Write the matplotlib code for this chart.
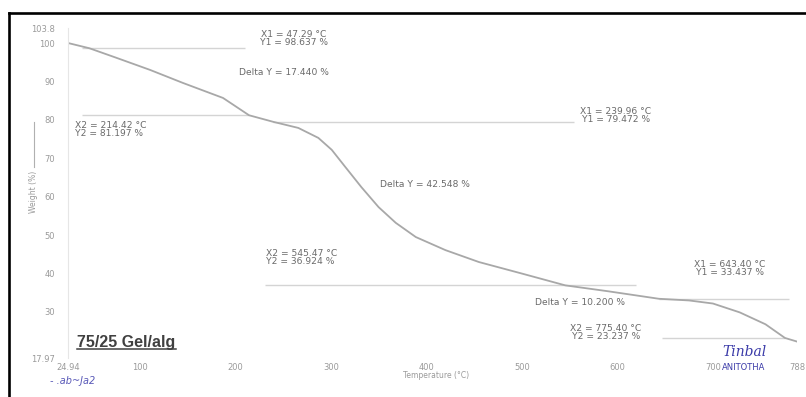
import matplotlib
matplotlib.use("Agg")
import matplotlib.pyplot as plt
from matplotlib.lines import Line2D

# TGA curve: temperature (°C) vs weight (%)
temperature = [24.94, 47.29, 75, 110.8, 145.3, 187.2, 214.42, 239.96, 266, 287,
               301, 315, 332, 350, 368, 389, 420, 455, 500, 545.47, 590, 643.40, 675,
               700, 728, 755, 775.40, 788]
weight = [100.0, 98.637, 96.2, 93.0, 89.6, 85.7, 81.197, 79.472, 77.9, 75.3,
          72.2, 67.8, 62.5, 57.3, 53.2, 49.5, 46.1, 43.0, 40.0, 36.924, 35.4, 33.437,
          33.0, 32.2, 29.9, 26.8, 23.237, 22.3]

# Step-analysis results
step_x1 = [47.29, 239.96, 643.40]
step_y1 = [98.637, 79.472, 33.437]
step_x2 = [214.42, 545.47, 775.40]
step_y2 = [81.197, 36.924, 23.237]
step_delta = [17.440, 42.548, 10.200]

# Axis ticks
x_ticks = [24.94, 100, 200, 300, 400, 500, 600, 700, 788]
x_tick_labels = ["24.94", "100", "200", "300", "400", "500", "600", "700", "788"]
y_ticks = [17.97, 30, 40, 50, 60, 70, 80, 90, 100, 103.8]
y_tick_labels = ["17.97", "30", "40", "50", "60", "70", "80", "90", "100", "103.8"]

sample_name = "75/25 Gel/alg"

W, H = 806, 397
fig = plt.figure(figsize=(W / 100, H / 100), dpi=100)
fig.patch.set_facecolor("white")

left, right, top, bottom = 68, 797, 28.4, 358.2
ax = fig.add_axes([left / W, 1 - bottom / H, (right - left) / W, (bottom - top) / H])
ax.set_xlim(24.94, 788)
ax.set_ylim(17.97, 103.8)

font = "DejaVu Sans"
txt_col = "#6a6a6a"
ref_col = "#d4d4d4"
fs_ann = 6.6

# Horizontal reference lines for each step
ref_segments = [
    (step_y1[0], 40, 210),
    (step_y2[0], 40, step_x2[0]),
    (step_y1[1], step_x1[1], 555),
    (step_y2[1], 231, 620),
    (step_y1[2], step_x1[2], 780),
    (step_y2[2], 647, step_x2[2]),
]
for yv, xa, xb in ref_segments:
    ax.plot([xa, xb], [yv, yv], color=ref_col, lw=1.0, solid_capstyle="butt", zorder=1)

ax.plot(temperature, weight, color="#a8a8a8", lw=1.3, zorder=2)

# Annotations
def pair(x, y_top, y_bot, k, a, b, ha="center"):
    ax.text(x, y_top, f"X{k} = {a:.2f} °C", ha=ha, va="center", fontsize=fs_ann,
            family=font, color=txt_col)
    ax.text(x, y_bot, f"Y{k} = {b:.3f} %", ha=ha, va="center", fontsize=fs_ann,
            family=font, color=txt_col)

pair(261.5, 102.2, 100.2, 1, step_x1[0], step_y1[0])
pair(32.3, 78.5, 76.4, 2, step_x2[0], step_y2[0], ha="left")
pair(598.5, 82.1, 80.1, 1, step_x1[1], step_y1[1])
pair(232.2, 45.2, 43.2, 2, step_x2[1], step_y2[1], ha="left")
pair(717.8, 42.3, 40.3, 1, step_x1[2], step_y1[2])
pair(588.0, 25.6, 23.6, 2, step_x2[2], step_y2[2])

for (x, y), d in zip([(251.0, 92.45), (398.6, 63.3), (560.8, 32.35)], step_delta):
    ax.text(x, y, f"Delta Y = {d:.3f} %", ha="center", va="center", fontsize=fs_ann,
            family=font, color=txt_col)

# Axes styling
ax.set_xticks(x_ticks)
ax.set_xticklabels(x_tick_labels)
ax.set_yticks(y_ticks)
ax.set_yticklabels(y_tick_labels)
ax.tick_params(length=0, labelsize=6.0, labelcolor="#9a9a9a")
ax.tick_params(axis="y", pad=9.5)
ax.tick_params(axis="x", pad=3.5)
for lab in ax.get_xticklabels() + ax.get_yticklabels():
    lab.set_family(font)
for s in ["top", "right", "bottom"]:
    ax.spines[s].set_visible(False)
ax.spines["left"].set_color("#e6e6e6")
ax.spines["left"].set_linewidth(0.8)
ax.set_facecolor("white")

fig.text(436 / W, 1 - 376 / H, "Temperature (°C)", ha="center", va="center",
         fontsize=5.5, family=font, color="#9a9a9a")
fig.text(34 / W, 1 - 192 / H, "Weight (%)", ha="center", va="center", rotation=90,
         fontsize=5.5, family=font, color="#9a9a9a")
fig.add_artist(Line2D([34 / W, 34 / W], [1 - 122 / H, 1 - 167 / H], color="#b0b0b0", lw=0.8))

# Sample title, underlined
fig.text(77 / W, 1 - 342 / H, sample_name, ha="left", va="center", fontsize=11.5,
         family="Liberation Sans", weight="bold", color="#404040")
fig.add_artist(Line2D([77 / W, 176 / W], [1 - 349 / H, 1 - 349 / H], color="#404040", lw=1.1))

# Handwritten notes in blue ink
fig.text(50 / W, 1 - 381 / H, "- .ab~Ja2", ha="left", va="center", fontsize=7,
         family="DejaVu Sans", style="italic", color="#5a5ab8")
fig.text(744 / W, 1 - 352 / H, "Tinbal", ha="center", va="center", fontsize=10,
         family="DejaVu Serif", style="italic", color="#3a3aa8")
fig.text(744 / W, 1 - 367 / H, "ANITOTHA", ha="center", va="center", fontsize=6,
         family="DejaVu Sans", color="#3a3aa8")

# Page frame lines
fig.add_artist(Line2D([8.5 / W, 1.0], [1 - 12.5 / H, 1 - 12.5 / H], color="black", lw=1.9))
fig.add_artist(Line2D([8.5 / W, 8.5 / W], [0.0, 1 - 12.5 / H], color="black", lw=1.9))

fig.savefig("out.png", dpi=100, facecolor="white")
